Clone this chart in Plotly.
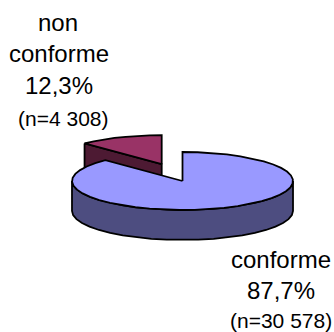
import numpy as np
import plotly.graph_objects as go

# Survey result: share of conforming and non-conforming cases
categories = ["conforme", "non conforme"]
shares = [87.7, 12.3]
counts = ["30 578", "4 308"]
share_labels = ["87,7%", "12,3%"]

top_colors = ["#9999ff", "#993366"]
wall_colors = ["#4d4d80", "#4d1a33"]

W, H = 334, 332
CX, CY = 182.5, 181.0
RX, RY = 110.5, 29.0
DEPTH = 30.0
EXPLODE = (-20.8, -16.8)


def rim(a0, a1, n=90):
    """Rim points of the tilted disc between two clockwise angles from 12 o'clock."""
    t = np.radians(np.linspace(a0, a1, n))
    return RX * np.sin(t), -RY * np.cos(t)


def poly(fig, x, y, color):
    fig.add_trace(go.Scatter(
        x=x, y=y, mode="lines", fill="toself", fillcolor=color,
        line=dict(color="black", width=1.8), hoverinfo="skip", showlegend=False,
    ))


fig = go.Figure()

end_main = 360 * shares[0] / 100

# Pulled-out slice: cut wall first, then its top face
dx, dy = EXPLODE
ex, ey = rim(end_main, 360, 8)
ox, oy = CX + dx, CY + dy
poly(fig,
     [ox + ex[0], ox + ex[0], ox, ox, ox + ex[0]],
     [oy + ey[0], oy + ey[0] + DEPTH, oy + DEPTH, oy, oy + ey[0]],
     wall_colors[1])
poly(fig,
     np.r_[ox, ox + ex, ox],
     np.r_[oy, oy + ey, oy],
     top_colors[1])

# Main slice: front wall along the visible lower half, then its top face
# (rim kept to a few facets, the way the disc is tessellated)
wx, wy = rim(90, 270, 23)
poly(fig,
     np.r_[CX + wx, (CX + wx)[::-1], CX + wx[0]],
     np.r_[CY + wy, (CY + wy + DEPTH)[::-1], CY + wy[0]],
     wall_colors[0])
mx, my = rim(0, end_main, 41)
poly(fig,
     np.r_[CX, CX + mx, CX],
     np.r_[CY, CY + my, CY],
     top_colors[0])

font = "Liberation Sans, Arial, sans-serif"


def label(x, y, text, size):
    fig.add_annotation(x=x, y=y, text=text, showarrow=False, xanchor="center",
                       yanchor="middle", font=dict(family=font, size=size, color="black"))


label(58, 22, "non", 24)
label(59, 53, "conforme", 24)
label(59, 85, share_labels[1], 24)
label(63, 118, f"(n={counts[1]})", 21)
label(281, 259, categories[0], 24)
label(281, 290, share_labels[0], 24)
label(281, 320, f"(n={counts[0]})", 21)

fig.update_layout(
    width=W, height=H, margin=dict(l=0, r=0, t=0, b=0),
    paper_bgcolor="white", plot_bgcolor="white",
    xaxis=dict(range=[0, W], visible=False, fixedrange=True),
    yaxis=dict(range=[H, 0], visible=False, fixedrange=True),
    showlegend=False,
)
fig.write_html("out.html", config={"displayModeBar": False})
